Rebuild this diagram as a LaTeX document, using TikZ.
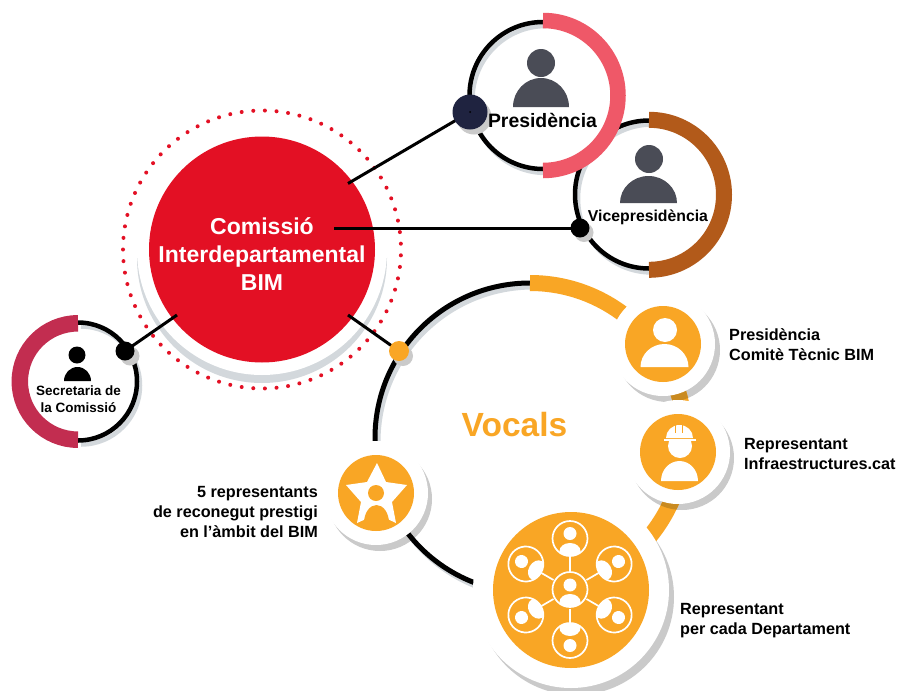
\documentclass[tikz,border=0pt]{standalone}
\usepackage{fontspec}
\setmainfont{Liberation Sans}
\usetikzlibrary{calc}
\definecolor{cRed}{HTML}{E31024}
\definecolor{cPink}{HTML}{EF5868}
\definecolor{cBrown}{HTML}{B25A1A}
\definecolor{cCrim}{HTML}{C22D50}
\definecolor{cOrange}{HTML}{F9A625}
\definecolor{cDark}{HTML}{C98A20}
\definecolor{cSlate}{HTML}{4A4C56}
\definecolor{cNavy}{HTML}{1F2340}
\definecolor{cShade}{HTML}{D3D8DC}
\definecolor{cDisc}{HTML}{CACACA}
\newcommand{\myarc}[6][]{\draw[#1] ({#2+#4*cos(#5)},{#3-#4*sin(#5)}) arc[start angle=#5,end angle=#6,radius=#4pt];}
\newcommand{\bust}[5]{% x y-base rx ry colour
  \fill[#5] (#1,#2) ++(-#3pt,0pt) arc[start angle=180,end angle=0,x radius=#3pt,y radius=#4pt] -- cycle;}
\tikzset{
  txt/.style={font=\fontsize{#1}{#1}\selectfont\bfseries,inner sep=0pt},
  lab/.style={font=\fontsize{16.2}{20}\selectfont\bfseries,inner sep=0pt,align=left,anchor=west},
  labr/.style={font=\fontsize{16.2}{20}\selectfont\bfseries,inner sep=0pt,align=right,anchor=east},
  conn/.style={line width=3pt,black},
  blk/.style={line width=4.5pt,black},
  shd/.style={line width=4.5pt,cShade},
  dot/.style={circle,inner sep=0pt,minimum size=#1pt},
  icoline/.style={white,line width=1.7pt}
}
\begin{document}
\begin{tikzpicture}[x=1pt,y=-1pt]
\useasboundingbox (0,0) rectangle (903,691);
\fill[white] (0,0) rectangle (903,691);
% commission halo
\fill[cShade] (262,258) circle[radius=125pt];
\fill[white] (262,250) circle[radius=125pt];
\foreach \i in {0,...,74}{
  \fill[cRed] ({262+139*cos(88.8+\i*4.8)},{249.5-139*sin(88.8+\i*4.8)}) circle[radius=2pt];
}
\node[circle,fill=cRed,minimum size=226pt,inner sep=0pt] (comm) at (262,249.5) {};
\node[txt=23,white,anchor=base] (commA) at (262,234) {Comissió};
\node[txt=23,white,anchor=base] (commB) at (262,262) {Interdepartamental};
\node[txt=23,white,anchor=base] (commC) at (262,290) {BIM};
% connector ends
\coordinate (cP) at (348,183.5);
\coordinate (cV) at (334,228);
\coordinate (cS) at (177,315);
\coordinate (cW) at (348,315);
\node[dot=35] (dP) at (470,112) {};
\node[dot=19] (dV) at (580,228) {};
\node[dot=19] (dS) at (125,351) {};
\node[dot=20] (dW) at (399,351) {};
% Vocals arc
\myarc[shd,line width=5pt]{533}{442}{155}{90}{250}
\fill[cDisc] (668,350) circle[radius=52pt];
\fill[cDisc] (682,458) circle[radius=52pt];
\fill[cDisc] (380,499) circle[radius=52pt];
\fill[cDisc] (576,597) circle[radius=98pt];
\myarc[line width=5pt,black]{530}{438}{155}{90}{250}
\myarc[line width=16pt,cOrange]{530}{438}{155}{90}{-50}
\begin{scope}
  \clip (668,350) circle[radius=52pt];
  \myarc[line width=16pt,cDark]{530}{438}{155}{90}{-50}
\end{scope}
\begin{scope}
  \clip (682,458) circle[radius=52pt];
  \myarc[line width=16pt,cDark]{530}{438}{155}{90}{-50}
\end{scope}
\fill[white] (663,344) circle[radius=52pt];
\fill[white] (678,452) circle[radius=52pt];
\fill[white] (376,493) circle[radius=52pt];
\fill[white] (571,590) circle[radius=98pt];
\node[circle,fill=cOrange,minimum size=76pt,inner sep=0pt] (vA) at (663,344) {};
\node[circle,fill=cOrange,minimum size=76pt,inner sep=0pt] (vB) at (678,452) {};
\node[circle,fill=cOrange,minimum size=76pt,inner sep=0pt] (vC) at (376,493) {};
\node[circle,fill=cOrange,minimum size=156pt,inner sep=0pt] (vD) at (571,590) {};
% Comite icon
\fill[white] (665,330) circle[radius=12pt];
\bust{664.5}{367}{24}{23}{white}
% Infra icon
\begin{scope}
  \clip (666,441) rectangle (694,462);
  \fill[white] (680,446) circle[radius=12pt];
\end{scope}
\fill[white] (666,438) arc[start angle=180,end angle=0,x radius=13.5pt,y radius=13pt] -- cycle;
\fill[white] (664,438.5) rectangle (696,441);
\draw[cOrange,line width=1pt] (675.5,424) -- (675.5,433) (682.5,424) -- (682.5,433);
\bust{679.5}{481}{18.5}{20}{white}
% Star icon
\fill[white] (377,463) -- (386,482) -- (407,485) -- (392,502) -- (396,523) -- (377,514) -- (357,523) -- (361,502) -- (346,485) -- (367,482) -- cycle;
\fill[cOrange] (376,493) circle[radius=8pt];
\bust{376.5}{523}{12.5}{18}{cOrange}
% Network icon
\begin{scope}[shift={(570,589.5)}]
  \draw[icoline] (0,0) circle[radius=17.5pt];
  \begin{scope}
    \clip (0,0) circle[radius=17.5pt];
    \fill[white] (0,12.5) ellipse[x radius=10.5pt,y radius=8pt];
  \end{scope}
  \fill[white] (0,-4.5) circle[radius=6.5pt];
  \foreach \a in {0,60,120,180,240,300}{
    \begin{scope}[rotate=\a]
      \draw[icoline] (0,-19) -- (0,-33);
      \begin{scope}[shift={(0,-51)}]
        \draw[icoline] (0,0) circle[radius=17.5pt];
        \begin{scope}
          \clip (0,0) circle[radius=17.5pt];
          \fill[white] (0,12.5) ellipse[x radius=10.5pt,y radius=8pt];
        \end{scope}
        \fill[white] (0,-5) circle[radius=6.5pt];
      \end{scope}
    \end{scope}
  }
\end{scope}
% connector to Vocals
\draw[conn] (cW) -- (dW.center);
\fill[cDisc] (403,356) circle[radius=10pt];
\node[dot=20,fill=cOrange] at (dW.center) {};
\node[txt=33.5,cOrange,anchor=base] (voc) at (514.5,436) {Vocals};
% Secretaria
\draw[conn] (cS) -- (dS.center);
\myarc[shd]{81}{385.5}{59}{90}{-90}
\myarc[blk]{78}{381.5}{59}{90}{-90}
\myarc[line width=16.5pt,cCrim]{78}{381.5}{58.2}{90}{270}
\fill[black] (77,355) circle[radius=8.5pt];
\bust{77.5}{381}{13.5}{14}{black}
\fill[cDisc] (130,356) circle[radius=9.5pt];
\node[dot=19,fill=black] at (dS.center) {};
\node[txt=13.5,anchor=base] (sa) at (78.5,395) {Secretaria de};
\node[txt=13.5,anchor=base] (sb) at (78.5,412) {la Comissió};
% Vice
\draw[conn] (cV) -- (dV.center);
\draw[conn] (cP) -- (dP.center);
\myarc[shd]{652}{198.5}{74}{90}{270}
\myarc[blk]{649}{194.5}{74}{90}{270}
\myarc[line width=16pt,cBrown]{649}{194.8}{75}{90}{-90}
\fill[cSlate] (649,159) circle[radius=14pt];
\bust{648.5}{203}{28.5}{27}{cSlate}
\fill[cDisc] (584,232.5) circle[radius=9.5pt];
\node[dot=19,fill=black] at (dV.center) {};
\node[txt=15.8,anchor=base] (vt) at (648,221) {Vicepresidència};
% Presidencia
\fill[white] (543,95.5) circle[radius=73pt];
\myarc[shd]{546}{99.5}{73.5}{90}{270}
\myarc[blk]{543}{95.5}{73.5}{90}{270}
\myarc[line width=15.5pt,cPink]{543}{95.5}{75}{90}{-90}
\fill[cSlate] (541,63) circle[radius=14pt];
\bust{541}{107}{28}{29}{cSlate}
\fill[cDisc] (474,117) circle[radius=17.5pt];
\node[dot=35,fill=cNavy] at (dP.center) {};
\fill[black] (dP.center) circle[radius=1pt];
\node[txt=19.4,anchor=base] (pt) at (542.5,127) {Presidència};
% outer labels
\node[lab] (l1) at (729,345) {Presidència\\Comitè Tècnic BIM};
\node[lab] (l2) at (744,454) {Representant\\Infraestructures.cat};
\node[lab] (l3) at (680,621) {Representant\\per cada Departament};
\node[labr] (l4) at (318,512) {5 representants\\de reconegut prestigi\\en l’àmbit del BIM};
\end{tikzpicture}
\end{document}
